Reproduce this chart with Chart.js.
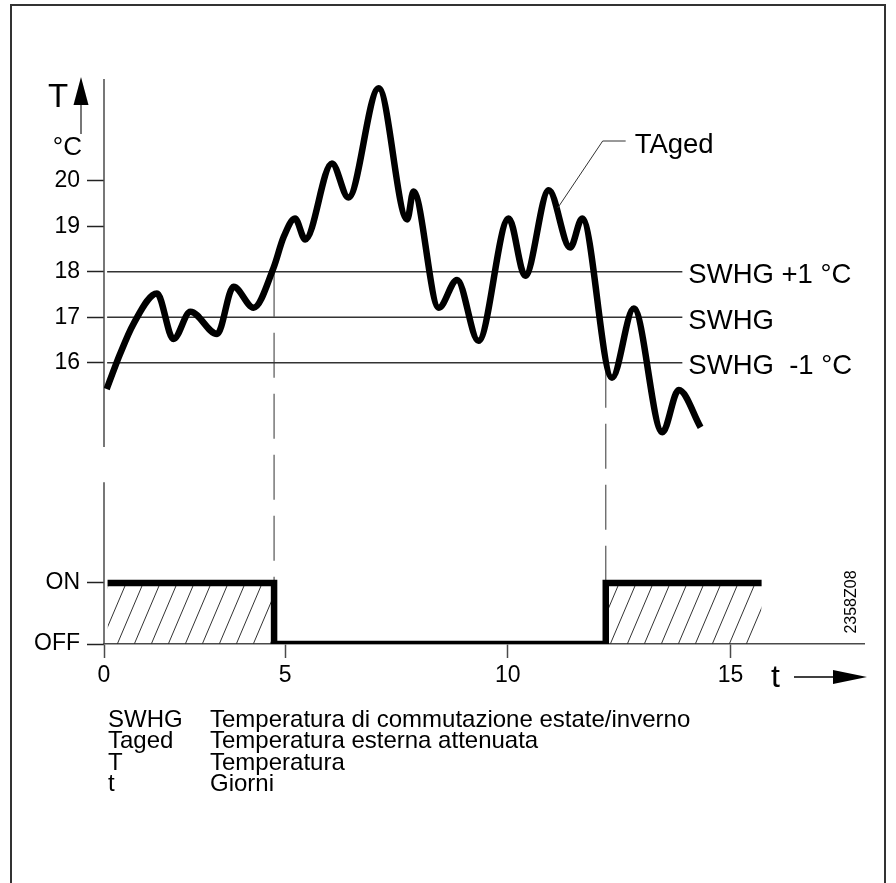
<!DOCTYPE html>
<html>
<head>
<meta charset="utf-8">
<script src="https://cdn.jsdelivr.net/npm/chart.js@4.4.0/dist/chart.umd.min.js"></script>
<style>
  html, body { margin: 0; padding: 0; background: #fff; }
  canvas { display: block; }
</style>
</head>
<body>
<canvas id="swhgChart" width="896" height="883"></canvas>
<script>
// TAged curve: day, attenuated outside temperature (°C)
const agedDays = [0.99, 1.29, 1.59, 2.12, 2.49, 2.87, 3.47, 3.84, 4.29, 4.74, 4.96, 5.22, 5.45, 6.05, 6.42, 7.10,
  7.74, 7.88, 8.45, 8.86, 9.34, 10.02, 10.39, 10.92, 11.40, 11.67, 12.34, 12.83, 13.47, 13.84, 14.33]
const agedTemps = [15.42, 16.19, 16.85, 17.52, 16.52, 17.12, 16.63, 17.67, 17.21, 18.09, 18.75, 19.17, 18.71, 20.38, 19.63, 22.03,
  19.15, 19.76, 17.21, 17.82, 16.48, 19.17, 17.91, 19.79, 18.53, 19.17, 15.67, 17.19, 14.47, 15.40, 14.58]

// switching temperature lines
const swhgLevels = [18, 17, 16]
const swhgLabels = ["SWHG +1 °C", "SWHG", "SWHG  -1 °C"]
const swhgSpan = [1.0, 13.92]

// summer / winter switch state
const switchDays = [1.01, 4.75, 12.2, 15.7]
const switchStates = [1, 0, 1, 1]

// axes
const tempTicks = [16, 17, 18, 19, 20]
const switchTicks = [0, 1]
const switchTickLabels = ["OFF", "ON"]
const dayTicks = [0.93, 5, 10, 15]
const dayTickLabels = ["0", "5", "10", "15"]

// key below the chart
const keyNames = ["SWHG", "Taged", "T", "t"]
const keyTexts = ["Temperatura di commutazione estate/inverno", "Temperatura esterna attenuata", "Temperatura", "Giorni"]

const FONT = '"Liberation Sans", Arial, sans-serif'
const AXIS = "#4a4a4a"

function drawText(ctx, str, x, y, size, align, baseline) {
  ctx.font = size + "px " + FONT
  ctx.textAlign = align || "left"
  ctx.textBaseline = baseline || "alphabetic"
  ctx.fillStyle = "#000"
  ctx.fillText(str, x, y)
}

function line(ctx, x1, y1, x2, y2) {
  ctx.beginPath()
  ctx.moveTo(x1, y1)
  ctx.lineTo(x2, y2)
  ctx.stroke()
}

function tri(ctx, pts) {
  ctx.beginPath()
  ctx.moveTo(pts[0], pts[1])
  ctx.lineTo(pts[2], pts[3])
  ctx.lineTo(pts[4], pts[5])
  ctx.closePath()
  ctx.fill()
}

function makeHatch(ctx) {
  const c = document.createElement("canvas")
  c.width = 17
  c.height = 40
  const g = c.getContext("2d")
  g.strokeStyle = "#333"
  g.lineWidth = 1
  for (const dx of [-17, 0, 17]) {
    line(g, dx, 40, dx + 17, 0)
  }
  return ctx.createPattern(c, "repeat")
}

const decorations = {
  id: "decorations",
  beforeDatasetsDraw(chart) {
    const ctx = chart.ctx
    const x = chart.scales.x
    const yT = chart.scales.y
    const yS = chart.scales.y2
    ctx.save()
    // temperature axis, broken between the two diagrams
    ctx.strokeStyle = AXIS
    ctx.lineWidth = 1.5
    line(ctx, x.left, yT.getPixelForValue(yT.max), x.left, yT.getPixelForValue(14.15))
    line(ctx, x.left, yS.getPixelForValue(2.65), x.left, yS.getPixelForValue(0))
    // switching moments: off at SWHG +1, on again at SWHG -1
    ctx.strokeStyle = "#555"
    ctx.lineWidth = 1.2
    ctx.setLineDash([45, 16])
    const px1 = x.getPixelForValue(switchDays[1])
    line(ctx, px1, yT.getPixelForValue(swhgLevels[0]), px1, yS.getPixelForValue(switchStates[1]))
    const px2 = x.getPixelForValue(switchDays[2])
    line(ctx, px2, yT.getPixelForValue(swhgLevels[2]), px2, yS.getPixelForValue(switchStates[2]))
    ctx.restore()
  },
  afterDraw(chart) {
    const ctx = chart.ctx
    const area = chart.chartArea
    const x = chart.scales.x
    const yT = chart.scales.y
    ctx.save()

    // frame
    ctx.strokeStyle = "#333"
    ctx.lineWidth = 2
    ctx.strokeRect(11, 5, 874, 950)

    // T axis name with arrow
    const ax = area.left - 23
    drawText(ctx, "T", ax - 33, 107, 33)
    ctx.strokeStyle = AXIS
    ctx.lineWidth = 1.5
    line(ctx, ax, 134, ax, 104)
    ctx.fillStyle = "#000"
    tri(ctx, [ax, 77, ax - 7.5, 105, ax + 7.5, 105])
    drawText(ctx, "°C", ax + 1, 155, 26, "right")

    // t axis name with arrow
    const ty = 677
    drawText(ctx, "t", area.right - 93, 687, 32)
    ctx.strokeStyle = "#000"
    ctx.lineWidth = 1.5
    line(ctx, area.right - 70, ty, area.right - 31, ty)
    ctx.fillStyle = "#000"
    tri(ctx, [area.right - 31, ty - 7, area.right + 3, ty, area.right - 31, ty + 7])

    // SWHG labels
    const lx = x.getPixelForValue(swhgSpan[1]) + 6
    swhgLevels.forEach((v, i) => {
      drawText(ctx, swhgLabels[i], lx, yT.getPixelForValue(v) + 11.5, 27.5)
    })

    // TAged leader
    const p0x = x.getPixelForValue(11.12)
    const p0y = yT.getPixelForValue(19.4)
    ctx.strokeStyle = "#333"
    ctx.lineWidth = 1
    ctx.beginPath()
    ctx.moveTo(p0x, p0y)
    ctx.lineTo(p0x + 45, p0y - 67)
    ctx.lineTo(p0x + 68, p0y - 67)
    ctx.stroke()
    drawText(ctx, "TAged", p0x + 77, p0y - 55, 27.5)

    // drawing number
    ctx.save()
    ctx.translate(851.5, 602)
    ctx.rotate(-Math.PI / 2)
    drawText(ctx, "2358Z08", 0, 0, 16, "center", "middle")
    ctx.restore()

    // key
    keyNames.forEach((k, i) => {
      const by = 727 + i * 21.3
      drawText(ctx, k, 108, by, 24)
      drawText(ctx, keyTexts[i], 210, by, 24)
    })
    ctx.restore()
  },
}

const canvas = document.getElementById("swhgChart")
const ctx = canvas.getContext("2d")

const swhgSets = swhgLevels.map((lvl) => ({
  data: swhgSpan.map((d) => ({ x: d, y: lvl })),
  yAxisID: "y",
  borderColor: "#333",
  borderWidth: 1.5,
  pointRadius: 0,
  fill: false,
}))

const tickFont = { family: FONT, size: 23 }

new Chart(ctx, {
  type: "line",
  data: {
    datasets: [
      {
        label: "TAged",
        data: agedDays.map((d, i) => ({ x: d, y: agedTemps[i] })),
        yAxisID: "y",
        borderColor: "#000",
        borderWidth: 6.5,
        borderJoinStyle: "round",
        cubicInterpolationMode: "monotone",
        pointRadius: 0,
        fill: false,
      },
      {
        label: "switch",
        data: switchDays.map((d, i) => ({ x: d, y: switchStates[i] })),
        yAxisID: "y2",
        stepped: "before",
        borderColor: "#000",
        borderWidth: 6.5,
        borderJoinStyle: "miter",
        pointRadius: 0,
        fill: "origin",
        backgroundColor: makeHatch(ctx),
      },
      ...swhgSets,
    ],
  },
  options: {
    responsive: false,
    animation: false,
    events: [],
    layout: { padding: { top: 79, right: 32, bottom: 199, left: 0 } },
    plugins: { legend: { display: false }, tooltip: { enabled: false } },
    scales: {
      x: {
        type: "linear",
        min: 0.93,
        max: 18.0,
        afterBuildTicks: (s) => { s.ticks = dayTicks.map((v) => ({ value: v })) },
        afterFit: (s) => { s.height = 40 },
        ticks: {
          callback: (v, i) => dayTickLabels[i],
          font: tickFont,
          color: "#000",
          padding: 4,
          maxRotation: 0,
          autoSkip: false,
        },
        grid: { drawOnChartArea: false, tickLength: 14, tickColor: AXIS, tickWidth: 1.5 },
        border: { color: AXIS, width: 1.5 },
      },
      y: {
        type: "linear",
        position: "left",
        stack: "v",
        stackWeight: 386,
        weight: 2,
        min: 13.752,
        max: 22.235,
        afterBuildTicks: (s) => { s.ticks = tempTicks.map((v) => ({ value: v })) },
        afterFit: (s) => { s.width = 104 },
        ticks: { font: tickFont, color: "#000", padding: 7 },
        grid: { drawOnChartArea: false, tickLength: 17, tickColor: "#222", tickWidth: 1.5 },
        border: { display: false },
      },
      y2: {
        type: "linear",
        position: "left",
        stack: "v",
        stackWeight: 179,
        weight: 1,
        min: 0,
        max: 2.934,
        afterBuildTicks: (s) => { s.ticks = switchTicks.map((v) => ({ value: v })) },
        afterFit: (s) => { s.width = 104 },
        ticks: {
          callback: (v, i) => switchTickLabels[i],
          font: tickFont,
          color: "#000",
          padding: 7,
        },
        grid: { drawOnChartArea: false, tickLength: 17, tickColor: "#222", tickWidth: 1.5 },
        border: { display: false },
      },
    },
  },
  plugins: [decorations],
})
</script>
</body>
</html>
